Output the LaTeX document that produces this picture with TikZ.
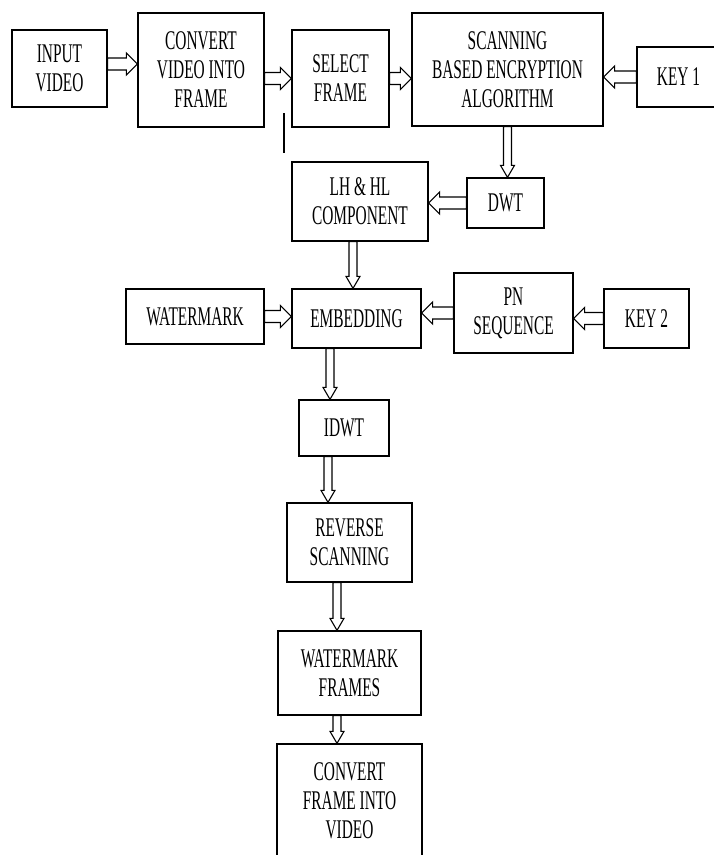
\documentclass[tikz,border=0pt]{standalone}
\usepackage{fontspec}
\setmainfont{Liberation Serif}[FakeStretch=0.57]
\usetikzlibrary{calc,backgrounds}

\begin{document}
\begin{tikzpicture}[x=1pt, y=-1pt,
  block/.style={draw, line width=1.3pt, inner sep=0pt, align=center,
    font=\fontsize{27}{29}\selectfont},
  hollow/.style n args={3}{draw, fill=white, line width=1.1pt, line join=miter,
    to path={let \p1=(\tikztostart), \p2=(\tikztotarget),
      \p3=($(\p2)!#3!(\p1)$) in
      ($(\p1)!#1!90:(\p2)$) -- ($(\p3)!#1!90:(\p2)$) -- ($(\p3)!#2!90:(\p2)$)
      -- (\p2) -- ($(\p3)!#2!-90:(\p2)$) -- ($(\p3)!#1!-90:(\p2)$)
      -- ($(\p1)!#1!-90:(\p2)$) -- cycle}},
  harrow/.style={hollow={6pt}{11pt}{11pt}},
  varrow/.style={hollow={4pt}{7pt}{12pt}}]
  \useasboundingbox (0,0) rectangle (713,855);

  % top row
  \node[block, minimum width=95pt, minimum height=77pt] (in) at (59.5,68.5) {INPUT\\VIDEO};
  \node[block, minimum width=126pt, minimum height=114pt] (conv) at (201,70) {CONVERT\\VIDEO INTO\\FRAME};
  \node[block, minimum width=97pt, minimum height=97pt] (sel) at (340.5,78.5) {SELECT\\FRAME};
  \node[block, minimum width=191pt, minimum height=113pt] (scan) at (507.5,69.5) {SCANNING\\BASED ENCRYPTION\\ALGORITHM};
  \node[block, minimum width=83pt, minimum height=60pt] (key1) at (678.5,77) {KEY 1};

  % middle
  \node[block, minimum width=136pt, minimum height=79pt] (lh) at (360,201.5) {LH \& HL\\COMPONENT};
  \node[block, minimum width=77pt, minimum height=50pt] (dwt) at (505.5,203) {DWT};
  \node[block, minimum width=138pt, minimum height=55pt] (wm) at (195,316.5) {WATERMARK};
  \node[block, minimum width=129pt, minimum height=59pt] (emb) at (356.5,318.5) {EMBEDDING};
  \node[block, minimum width=119pt, minimum height=80pt] (pn) at (513.5,313) {PN\\SEQUENCE};
  \node[block, minimum width=85pt, minimum height=59pt] (key2) at (646.5,318.5) {KEY 2};

  % bottom column
  \node[block, minimum width=90pt, minimum height=56pt] (idwt) at (344,428) {IDWT};
  \node[block, minimum width=125pt, minimum height=79pt] (rev) at (349.5,542.5) {REVERSE\\SCANNING};
  \node[block, minimum width=143pt, minimum height=84pt] (wmf) at (349.5,673) {WATERMARK\\FRAMES};
  \node[block, minimum width=145pt, minimum height=114pt] (fin) at (349.5,801) {CONVERT\\FRAME INTO\\VIDEO};

  % stray mark
  \coordinate (mark top) at (284,113);
  \coordinate (mark bot) at (284,153);
  \draw[line width=2pt] (mark top) -- (mark bot);

  \begin{scope}[on background layer]
    \draw[harrow] ([yshift=4.5pt]in.east) to ([yshift=4.5pt]in.east -| conv.west);
    \draw[harrow] (conv.east |- sel.west) to (sel.west);
    \draw[harrow] (sel.east) to (sel.east -| scan.west);
    \draw[harrow] (key1.west) to (key1.west -| scan.east);
    \draw[varrow] (scan.south) to (scan.south |- dwt.north);
    \draw[harrow] (dwt.west) to (dwt.west -| lh.east);
    \draw[varrow] ([xshift=-7pt]lh.south) to ([xshift=-7pt]lh.south |- emb.north);
    \draw[harrow] (wm.east) to (wm.east -| emb.west);
    \draw[harrow] (pn.west) to (pn.west -| emb.east);
    \draw[harrow] (key2.west) to (key2.west -| pn.east);
    \draw[varrow] ([xshift=-14pt]idwt.north |- emb.south) to ([xshift=-14pt]idwt.north);
    \draw[varrow] ([xshift=-16pt]idwt.south) to ([xshift=-16pt]idwt.south |- rev.north);
    \draw[varrow] ([xshift=-12.5pt]rev.south) to ([xshift=-12.5pt]rev.south |- wmf.north);
    \draw[varrow] ([xshift=-12.5pt]wmf.south) to ([xshift=-12.5pt]wmf.south |- fin.north);
  \end{scope}
\end{tikzpicture}
\end{document}
